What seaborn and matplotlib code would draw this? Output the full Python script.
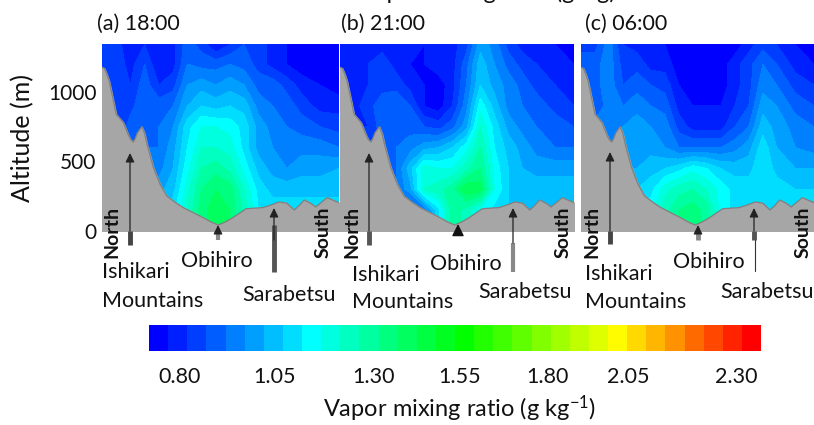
import numpy as np
import matplotlib
matplotlib.use("Agg")
import matplotlib.pyplot as plt
import seaborn as sns
from matplotlib.colors import LinearSegmentedColormap, ListedColormap

# distance along the section (% of panel width) and altitude (m)
section_x = [0, 6, 12, 18, 24, 30, 36, 42, 48, 54, 60, 66, 72, 78, 84, 92, 100]
altitudes = [1340, 1200, 1050, 900, 750, 600, 450, 300, 150, 0]

# vapor mixing ratio (g/kg), top row = highest altitude
vapor_18 = [
    [.93, .93, .85, .90, .85, .88, .98, .93, .85, .90, .95, .93, .88, .85, .82, .82, .82],
    [.93, .93, .88, .95, .85, .88, 1.00, .98, .98, 1.00, .98, .93, .88, .85, .82, .82, .82],
    [.93, .93, .90, .98, .90, .93, 1.05, 1.08, 1.05, 1.08, 1.05, .98, .98, .93, .88, .85, .82],
    [.90, .90, .93, 1.00, .98, 1.00, 1.10, 1.15, 1.13, 1.15, 1.13, 1.03, 1.00, .98, .93, .88, .88],
    [.88, .88, .98, 1.00, 1.00, 1.05, 1.18, 1.25, 1.25, 1.23, 1.18, 1.08, 1.03, 1.00, .98, .95, .93],
    [.98, .98, .98, 1.00, 1.00, 1.08, 1.20, 1.30, 1.30, 1.28, 1.18, 1.08, 1.05, 1.03, 1.03, 1.03, 1.00],
    [1.03, 1.03, 1.03, 1.03, 1.03, 1.10, 1.23, 1.35, 1.38, 1.33, 1.23, 1.13, 1.08, 1.05, 1.08, 1.08, 1.10],
    [1.08, 1.08, 1.08, 1.08, 1.08, 1.13, 1.28, 1.40, 1.45, 1.43, 1.30, 1.18, 1.13, 1.13, 1.13, 1.13, 1.13],
    [1.18, 1.18, 1.18, 1.18, 1.18, 1.18, 1.30, 1.43, 1.48, 1.45, 1.33, 1.20, 1.18, 1.18, 1.18, 1.18, 1.18],
    [1.18, 1.18, 1.18, 1.18, 1.18, 1.18, 1.30, 1.43, 1.48, 1.45, 1.33, 1.20, 1.18, 1.18, 1.18, 1.18, 1.18],
]
vapor_21 = [
    [.90, .90, .90, .88, .88, .88, .85, .88, .88, .93, 1.08, 1.03, .93, .88, .88, .85, .85],
    [.90, .90, .90, .93, .88, .85, .85, .88, .88, .98, 1.13, 1.05, .98, .93, .90, .88, .85],
    [.90, .90, .90, .93, .93, .88, .85, .82, .88, 1.00, 1.15, 1.08, 1.03, .98, .93, .90, .88],
    [.88, .88, .93, .98, 1.00, .95, .85, .82, .90, 1.03, 1.23, 1.13, 1.03, 1.00, .98, .93, .90],
    [.90, .90, .90, .98, 1.00, .98, .95, .93, .98, 1.08, 1.30, 1.18, 1.08, 1.03, 1.00, .98, .95],
    [.95, .95, .95, .95, 1.00, 1.03, 1.08, 1.10, 1.15, 1.23, 1.35, 1.20, 1.13, 1.08, 1.03, 1.00, 1.00],
    [.98, .98, .98, .98, 1.00, 1.13, 1.28, 1.25, 1.25, 1.33, 1.40, 1.23, 1.15, 1.10, 1.08, 1.08, 1.08],
    [1.00, 1.00, 1.00, 1.00, 1.00, 1.08, 1.30, 1.33, 1.38, 1.50, 1.48, 1.25, 1.15, 1.13, 1.13, 1.13, 1.13],
    [.88, .88, .88, .88, .88, .90, 1.00, 1.18, 1.38, 1.33, 1.23, 1.18, 1.15, 1.15, 1.15, 1.15, 1.15],
    [.88, .88, .88, .88, .88, .90, 1.00, 1.18, 1.38, 1.33, 1.23, 1.18, 1.15, 1.15, 1.15, 1.15, 1.15],
]
vapor_06 = [
    [.93, .93, 1.03, .90, .88, .85, .85, .82, .82, .82, .82, .82, .88, .93, .90, .85, .82],
    [.98, .98, 1.03, .93, .93, .88, .88, .82, .82, .82, .82, .88, .93, 1.00, .95, .88, .85],
    [.98, .98, 1.03, .95, .98, .95, .93, .85, .82, .82, .82, .88, .93, 1.03, 1.00, .93, .90],
    [.95, .95, 1.03, 1.00, 1.03, 1.00, .98, .88, .85, .85, .85, .90, .95, 1.08, 1.05, .98, .95],
    [1.03, 1.03, 1.03, 1.05, 1.08, 1.05, 1.03, .93, .88, .88, .88, .95, 1.00, 1.13, 1.08, 1.03, 1.00],
    [1.05, 1.05, 1.05, 1.05, 1.08, 1.08, 1.05, 1.00, 1.00, 1.00, 1.00, 1.03, 1.08, 1.18, 1.10, 1.05, 1.03],
    [1.10, 1.10, 1.10, 1.10, 1.10, 1.13, 1.15, 1.18, 1.23, 1.20, 1.15, 1.13, 1.13, 1.20, 1.13, 1.10, 1.10],
    [1.15, 1.15, 1.15, 1.15, 1.15, 1.18, 1.28, 1.33, 1.35, 1.30, 1.23, 1.18, 1.18, 1.18, 1.18, 1.15, 1.15],
    [1.23, 1.23, 1.23, 1.23, 1.23, 1.23, 1.33, 1.40, 1.43, 1.38, 1.23, 1.18, 1.18, 1.18, 1.18, 1.18, 1.18],
    [1.23, 1.23, 1.23, 1.23, 1.23, 1.23, 1.33, 1.40, 1.43, 1.38, 1.23, 1.18, 1.18, 1.18, 1.18, 1.18, 1.18],
]

# terrain profile, same for the three panels
terrain_x = [0, 1, 2, 3, 4, 5, 6, 7.5, 9, 11, 12, 13.2, 14, 15, 16.8, 18, 19, 21.7, 24.5, 27.3, 31, 34.3, 42.7, 46, 49, 52,
             55.2, 60.8, 64, 67.8, 71, 74.8, 78, 81.1, 83, 85.3, 88, 90.2, 92.5, 95, 97, 100]
terrain_alt = [1176, 1170, 1130, 1080, 1000, 920, 840, 810, 780, 696, 660, 640, 665, 708, 750, 700, 624, 456, 336, 252, 205,
               168, 96, 65, 43, 65, 96, 160, 164, 168, 185, 209, 200, 151, 180, 223, 200, 173, 205, 240, 225, 204]

bar_ticks = ["0.80", "1.05", "1.30", "1.55", "1.80", "2.05", "2.30"]
bar_tick_px = [180, 275, 374, 460, 547, 628, 736]
n_bands = 32
band_stops = ["#0000ff", "#00ffff", "#00ff00", "#ffff00", "#ff0000"]
band_pos = [0, 8 / 31, 16 / 31, 24 / 31, 1]

W, H = 814, 425
sns.set_theme(style="white")
plt.rcParams["font.family"] = ["Lato", "DejaVu Sans"]
plt.rcParams["mathtext.default"] = "regular"


def px_axes(fig, x0, y0, x1, y1):
    return fig.add_axes([x0 / W, 1 - y1 / H, (x1 - x0) / W, (y1 - y0) / H])


cmap = LinearSegmentedColormap.from_list("vapor", list(zip(band_pos, band_stops)))
band_colors = [cmap(i / (n_bands - 1)) for i in range(n_bands)]
levels = 0.80 + 0.05 * np.arange(n_bands + 1)

fig = plt.figure(figsize=(W / 100, H / 100), dpi=100)

panels = [
    (vapor_18, (102, 339)),
    (vapor_21, (340, 574)),
    (vapor_06, (581, 814)),
]
for i, (vapor, (x0, x1)) in enumerate(panels):
    ax = px_axes(fig, x0, 44, x1, 231)
    ax.contourf(section_x, altitudes[::-1], np.array(vapor)[::-1], levels=levels, colors=band_colors)
    ax.fill_between(terrain_x, terrain_alt, 0, color="#a6a6a6", zorder=3)
    sns.lineplot(x=terrain_x, y=terrain_alt, color="#808080", linewidth=0.9, ax=ax, zorder=4)
    ax.set_xlim(0, 100)
    ax.set_ylim(0, 1345)
    ax.set_xticks([])
    sns.despine(ax=ax, left=True, bottom=True)
    if i == 0:
        ax.set_yticks([0, 500, 1000])
        ax.tick_params(axis="y", length=0, labelsize=15, labelcolor="#111111", pad=4)
        ax.set_ylabel("Altitude (m)", fontsize=18, color="#111111", labelpad=10)
    else:
        ax.set_yticks([])

# colour bar
cax = px_axes(fig, 149, 325, 761, 351)
sns.heatmap(np.arange(n_bands).reshape(1, -1), cmap=ListedColormap(band_colors), cbar=False,
            xticklabels=False, yticklabels=False, ax=cax)

# overlay in pixel coordinates for the hand placed labels and arrows
over = fig.add_axes([0, 0, 1, 1], facecolor="none")
over.set_xlim(0, W)
over.set_ylim(H, 0)
over.axis("off")

txt = dict(color="#111111", va="center", ha="left", fontsize=15.5)
for x, s in [(97, "(a) 18:00"), (341, "(b) 21:00"), (585, "(c) 06:00")]:
    over.text(x, 24, s, **txt)
# the reference crops this line at the top of the picture, only descenders show
over.text(487, -8, "Vapor mixing ratio (g/kg)", color="#111111", ha="center", va="center", fontsize=17)

for x, s in [(112, "North"), (323, "South"), (352, "North"), (563, "South"), (592, "North"), (803, "South")]:
    over.text(x, 232, s, rotation=90, ha="center", va="center", fontsize=14, fontweight="bold", color="#111111")

place_names = [
    (102, 272, "Ishikari"), (102, 301, "Mountains"), (181, 261, "Obihiro"), (242, 295, "Sarabetsu"),
    (352, 275, "Ishikari"), (352, 302, "Mountains"), (430, 264, "Obihiro"), (478, 292, "Sarabetsu"),
    (585, 274, "Ishikari"), (585, 302, "Mountains"), (673, 262, "Obihiro"), (720, 292, "Sarabetsu"),
]
for x, y, s in place_names:
    over.text(x, y, s, **txt)

# x, tip, thin shaft end, thick stem start, thick stem end
arrows = [
    (130, 153, 231, 231, 245, 3.5, "#444444"), (218, 225, 231, 231, 240, 3, "#888888"), (274, 208, 240, 225, 272, 3.5, "#555555"),
    (369, 153, 231, 231, 245, 3.5, "#555555"), (513, 208, 243, 243, 272, 3, "#888888"),
    (610, 152, 231, 231, 244, 3.5, "#444444"), (698, 225, 231, 231, 240, 3.5, "#888888"), (754, 208, 231, 231, 240, 3.5, "#555555"),
]
for x, tip, shaft, st0, st1, lw, col in arrows:
    over.plot([x, x], [st0, st1], color=col, linewidth=lw, solid_capstyle="butt")
    over.annotate("", xy=(x, tip), xytext=(x, shaft),
                  arrowprops=dict(arrowstyle="-|>,head_width=0.22,head_length=0.45", color="#222222", lw=0.9,
                                  shrinkA=0, shrinkB=0))
# panel (b) Obihiro is only a head, panel (c) Sarabetsu has a long thin tail
over.annotate("", xy=(458, 224), xytext=(458, 234),
              arrowprops=dict(arrowstyle="-|>,head_width=0.3,head_length=0.6", color="#111111", shrinkA=0, shrinkB=0))
over.plot([755, 755], [240, 271], color="#333333", linewidth=0.8)

for s, x in zip(bar_ticks, bar_tick_px):
    over.text(x, 377, s, ha="center", va="center", fontsize=15.5, color="#111111")
over.text(460, 409, "Vapor mixing ratio (g kg$^{-1}$)", ha="center", va="center", fontsize=17, color="#111111")

fig.savefig("out.png", dpi=100)
